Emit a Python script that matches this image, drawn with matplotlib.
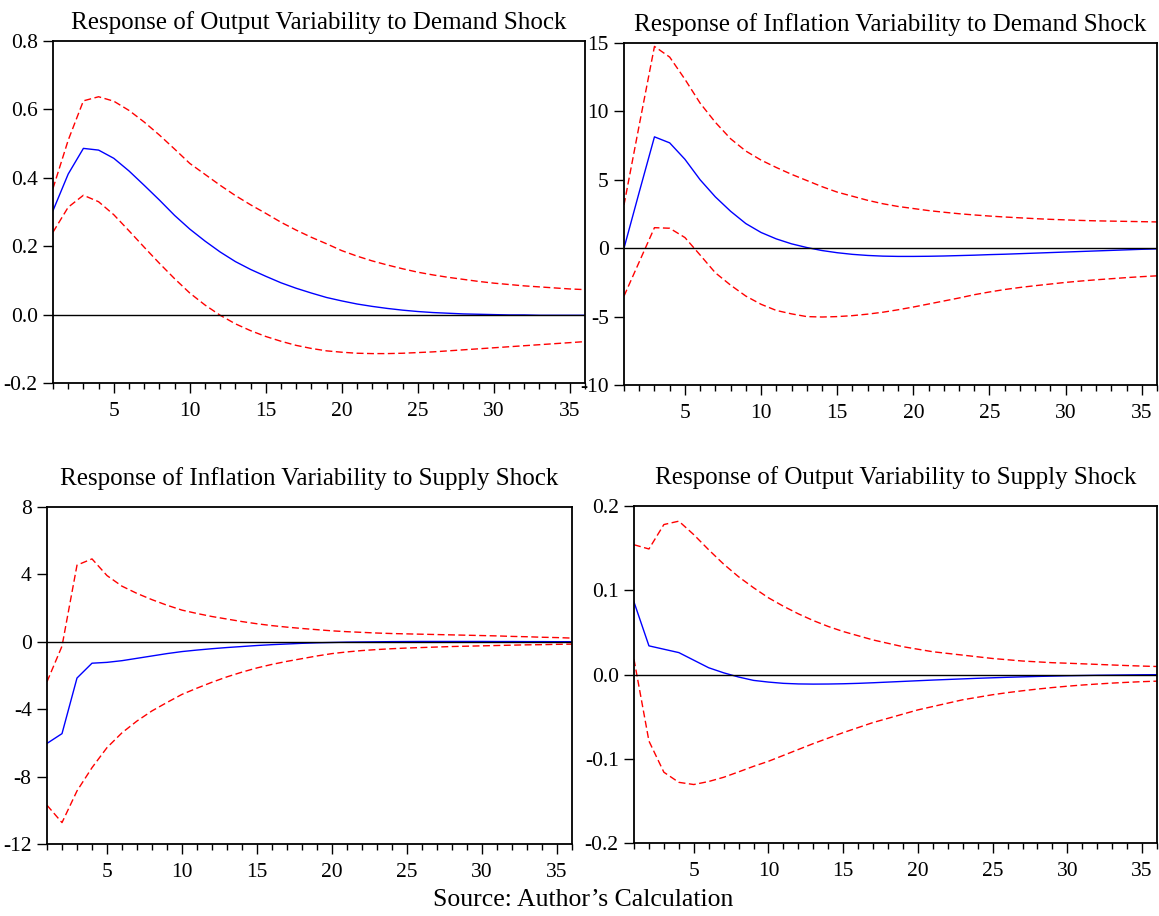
import matplotlib
matplotlib.use("Agg")
import matplotlib.pyplot as plt
from matplotlib.ticker import MultipleLocator, FormatStrFormatter

plt.rcParams['font.family'] = ['Liberation Serif', 'DejaVu Serif']
plt.rcParams['axes.unicode_minus'] = False

periods = list(range(1, 37))

# output variability -> demand shock
out_dem = [0.304, 0.411, 0.486, 0.481, 0.457, 0.42, 0.378, 0.335, 0.29, 0.25,
           0.215, 0.183, 0.155, 0.132, 0.112, 0.093, 0.077, 0.063, 0.05, 0.04,
           0.031, 0.024, 0.018, 0.013, 0.009, 0.006, 0.004, 0.002, 0.001, 0.0,
           -0.001, -0.001, -0.002, -0.002, -0.002, -0.002]
out_dem_hi = [0.369, 0.51, 0.625, 0.637, 0.624, 0.597, 0.563, 0.525, 0.484, 0.442,
              0.41, 0.378, 0.348, 0.321, 0.296, 0.27, 0.247, 0.226, 0.207, 0.187,
              0.171, 0.157, 0.145, 0.134, 0.124, 0.116, 0.109, 0.103, 0.097, 0.092,
              0.088, 0.084, 0.081, 0.078, 0.075, 0.073]
out_dem_lo = [0.241, 0.314, 0.349, 0.33, 0.292, 0.245, 0.197, 0.15, 0.105, 0.063,
              0.028, -0.002, -0.027, -0.047, -0.064, -0.078, -0.09, -0.099, -0.106, -0.11,
              -0.113, -0.114, -0.114, -0.113, -0.111, -0.109, -0.106, -0.103, -0.1, -0.097,
              -0.094, -0.091, -0.088, -0.085, -0.082, -0.079]

# inflation variability -> demand shock
inf_dem = [0.0, 4.1, 8.14, 7.7, 6.5, 5.0, 3.75, 2.7, 1.8, 1.15,
           0.68, 0.32, 0.05, -0.17, -0.33, -0.45, -0.53, -0.58, -0.6, -0.6,
           -0.59, -0.57, -0.54, -0.51, -0.47, -0.44, -0.4, -0.36, -0.32, -0.28,
           -0.24, -0.2, -0.16, -0.12, -0.08, -0.05]
inf_dem_hi = [3.16, 9.0, 14.75, 13.97, 12.35, 10.6, 9.2, 8.0, 7.1, 6.44,
              5.9, 5.4, 4.95, 4.5, 4.1, 3.8, 3.5, 3.25, 3.05, 2.9,
              2.75, 2.63, 2.52, 2.43, 2.35, 2.28, 2.22, 2.16, 2.11, 2.07,
              2.03, 2.0, 1.98, 1.96, 1.94, 1.92]
inf_dem_lo = [-3.5, -1.0, 1.5, 1.46, 0.78, -0.5, -1.8, -2.7, -3.5, -4.1,
              -4.55, -4.8, -5.0, -5.03, -5.0, -4.93, -4.82, -4.68, -4.5, -4.3,
              -4.08, -3.86, -3.64, -3.4, -3.2, -3.02, -2.87, -2.74, -2.62, -2.5,
              -2.4, -2.31, -2.23, -2.15, -2.08, -2.02]

# inflation variability -> supply shock
inf_sup = [-6.03, -5.45, -2.15, -1.27, -1.22, -1.12, -0.98, -0.84, -0.7, -0.58,
           -0.49, -0.41, -0.34, -0.28, -0.22, -0.17, -0.13, -0.09, -0.06, -0.04,
           -0.02, -0.01, 0.0, 0.01, 0.015, 0.02, 0.02, 0.02, 0.02, 0.02,
           0.015, 0.015, 0.01, 0.01, 0.005, 0.005]
inf_sup_hi = [-2.37, -0.26, 4.55, 4.92, 3.93, 3.3, 2.87, 2.5, 2.17, 1.88,
              1.68, 1.5, 1.35, 1.2, 1.07, 0.96, 0.87, 0.79, 0.72, 0.65,
              0.6, 0.56, 0.52, 0.49, 0.47, 0.45, 0.43, 0.41, 0.39, 0.37,
              0.35, 0.32, 0.3, 0.27, 0.25, 0.22]
inf_sup_lo = [-9.7, -10.73, -8.85, -7.47, -6.28, -5.4, -4.7, -4.1, -3.6, -3.12,
              -2.75, -2.4, -2.08, -1.8, -1.55, -1.34, -1.16, -1.0, -0.84, -0.7,
              -0.6, -0.52, -0.46, -0.41, -0.37, -0.34, -0.31, -0.28, -0.26, -0.24,
              -0.22, -0.2, -0.18, -0.17, -0.15, -0.14]

# output variability -> supply shock
out_sup = [0.086, 0.034, 0.030, 0.026, 0.017, 0.008, 0.002, -0.003, -0.007, -0.009,
           -0.0105, -0.0112, -0.0114, -0.0113, -0.011, -0.0105, -0.0098, -0.009, -0.0082, -0.0074,
           -0.0066, -0.0059, -0.0052, -0.0045, -0.0039, -0.0033, -0.0028, -0.0023, -0.0019, -0.0015,
           -0.0012, -0.0009, -0.0007, -0.0005, -0.0003, -0.0002]
out_sup_hi = [0.154, 0.149, 0.178, 0.182, 0.166, 0.148, 0.131, 0.116, 0.103, 0.091,
              0.081, 0.072, 0.064, 0.057, 0.051, 0.046, 0.041, 0.037, 0.033, 0.030,
              0.027, 0.025, 0.023, 0.021, 0.019, 0.0175, 0.016, 0.015, 0.014, 0.0134,
              0.0127, 0.012, 0.0113, 0.0106, 0.01, 0.0095]
out_sup_lo = [0.018, -0.079, -0.116, -0.128, -0.1306, -0.127, -0.122, -0.1156, -0.109, -0.103,
              -0.096, -0.089, -0.082, -0.0755, -0.069, -0.063, -0.057, -0.052, -0.047, -0.042,
              -0.038, -0.034, -0.030, -0.027, -0.024, -0.0215, -0.0193, -0.0173, -0.0155, -0.0139,
              -0.0125, -0.0113, -0.0102, -0.0093, -0.0085, -0.0079]

W, H = 1159, 916
fig = plt.figure(figsize=(W / 100, H / 100), dpi=100)


def make_axes(x0, x1, y0, y1):
    # pixel box -> figure fraction
    return fig.add_axes([x0 / W, 1 - y1 / H, (x1 - x0) / W, (y1 - y0) / H])


def panel(ax, title, mid, hi, lo, ylim, ystep, fmt, pad):
    ax.plot(periods, hi, color='red', lw=1, ls=(0, (5, 2.5)))
    ax.plot(periods, lo, color='red', lw=1, ls=(0, (5, 2.5)))
    ax.plot(periods, mid, color='blue', lw=1)
    ax.axhline(0, color='black', lw=1)
    ax.set_xlim(1, 36)
    ax.set_ylim(*ylim)
    ax.xaxis.set_major_locator(MultipleLocator(5))
    ax.xaxis.set_minor_locator(MultipleLocator(1))
    ax.yaxis.set_major_locator(MultipleLocator(ystep))
    ax.yaxis.set_major_formatter(FormatStrFormatter(fmt))
    ax.tick_params(axis='both', which='major', labelsize=15.5, length=7, width=1, direction='out')
    ax.tick_params(axis='x', which='major', pad=7)
    ax.tick_params(axis='y', which='major', pad=4)
    ax.tick_params(axis='x', which='minor', length=4, width=1, direction='out')
    ax.tick_params(right=False, top=False)
    for s in ax.spines.values():
        s.set_linewidth(1.3)
    ax.set_title(title, fontsize=18, pad=pad)


ax1 = make_axes(53, 585, 41, 383)
panel(ax1, "Response of Output Variability to Demand Shock",
      out_dem, out_dem_hi, out_dem_lo, (-0.2, 0.8), 0.2, '%.1f', 9)

ax2 = make_axes(624, 1157, 43, 385)
panel(ax2, "Response of Inflation Variability to Demand Shock",
      inf_dem, inf_dem_hi, inf_dem_lo, (-10, 15), 5, '%d', 9)

ax3 = make_axes(47, 572, 507, 844)
panel(ax3, "Response of Inflation Variability to Supply Shock",
      inf_sup, inf_sup_hi, inf_sup_lo, (-12, 8), 4, '%d', 16)

ax4 = make_axes(634, 1157, 506, 843)
panel(ax4, "Response of Output Variability to Supply Shock",
      out_sup, out_sup_hi, out_sup_lo, (-0.2, 0.2), 0.1, '%.1f', 16)

fig.text(583 / W, 1 - 900 / H, "Source: Author\u2019s Calculation",
         ha='center', va='center', fontsize=18.5)

fig.savefig("out.png", dpi=100)
